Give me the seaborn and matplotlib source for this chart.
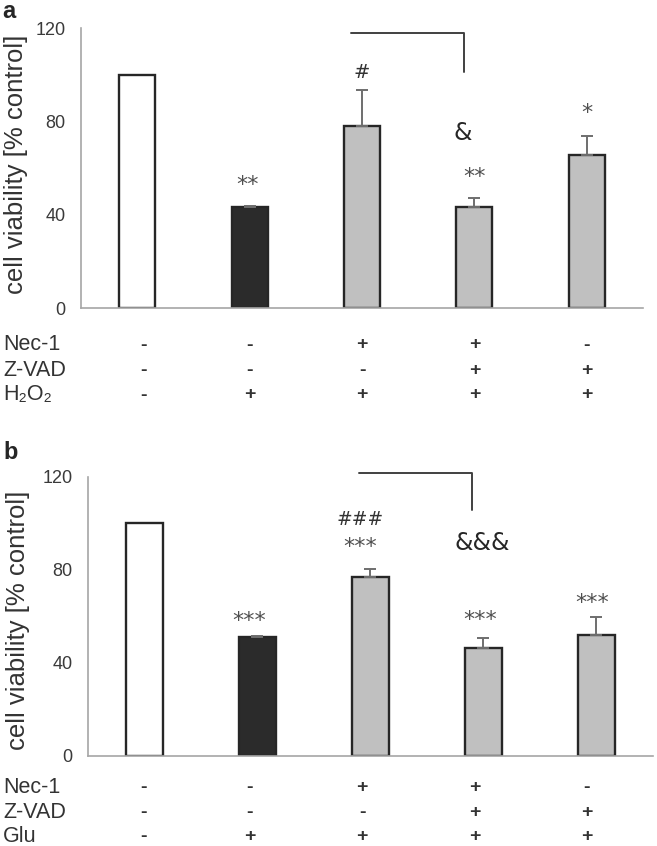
import pandas as pd
import seaborn as sns
import matplotlib.pyplot as plt
from matplotlib.transforms import blended_transform_factory

# groups (same order in both panels)
groups = ['ctrl', 'stress', 'Nec-1', 'Nec-1 + Z-VAD', 'Z-VAD']
bar_colors = ['#ffffff', '#2b2b2b', '#c0c0c0', '#c0c0c0', '#c0c0c0']

# panel a: H2O2
viab_a = [100, 43.5, 78, 43.4, 65.4]
err_a = [0, 0.4, 15.3, 3.7, 8.3]
# panel b: glutamate
viab_b = [100, 51, 76.8, 46.4, 51.9]
err_b = [0, 0.4, 3.5, 4.2, 7.8]

row_names_a = ['Nec-1', 'Z-VAD', 'H₂O₂']
row_names_b = ['Nec-1', 'Z-VAD', 'Glu']
treat = [['-', '-', '+', '+', '-'],
         ['-', '-', '-', '+', '+'],
         ['-', '+', '+', '+', '+']]

yticks = [0, 40, 80, 120]

sns.set_style("white")
plt.rcParams['font.family'] = ['Liberation Sans', 'DejaVu Sans']

fig = plt.figure(figsize=(6.57, 8.46), dpi=100)
ax_a = fig.add_axes([0.1233, 0.6359, 0.8554, 0.3310])
ax_b = fig.add_axes([0.1339, 0.1064, 0.8600, 0.3298])


def draw_panel(ax, values, errs, label_pos):
    df = pd.DataFrame({'group': groups, 'viability': values})
    sns.barplot(data=df, x='group', y='viability', hue='group', palette=bar_colors,
                order=groups, width=0.32, edgecolor='#262626', linewidth=1.7,
                legend=False, ax=ax)
    xs = [p.get_x() + p.get_width() / 2 for p in ax.patches]
    for x, v, e in zip(xs, values, errs):
        if e > 0:
            ax.errorbar(x, v, yerr=[[0], [e]], fmt='none', ecolor='#6e6e6e',
                        elinewidth=1.4, capsize=4, capthick=1.4, zorder=1)
    ax.set_xlim(-0.5, 4.5)
    ax.set_ylim(0, 120)
    ax.set_yticks(yticks)
    ax.set_xticks([])
    ax.set_xlabel('')
    ax.set_ylabel('cell viability [% control]', fontsize=18.5, color='#333333')
    ax.yaxis.set_label_coords(label_pos[0], label_pos[1])
    ax.tick_params(axis='y', length=0, pad=11, labelsize=13, labelcolor='#3a3a3a')
    for s in ['top', 'right']:
        ax.spines[s].set_visible(False)
    for s in ['left', 'bottom']:
        ax.spines[s].set_color('#a6a6a6')
        ax.spines[s].set_linewidth(1.2)


draw_panel(ax_a, viab_a, err_a, (-0.094, 0.514))
draw_panel(ax_b, viab_b, err_b, (-0.103, 0.487))

star = dict(ha='center', va='center', family='DejaVu Sans', color='#505050', fontsize=16)

# panel a annotations
ax_a.text(0.98, 52.7, '**', **star)
ax_a.text(3.0, 56, '**', **star)
ax_a.text(4.0, 83.5, '*', **star)
ax_a.text(2.0, 101, '#', ha='center', va='center', family='DejaVu Sans', color='#333333', fontsize=14)
ax_a.text(2.9, 75, '&', ha='center', va='center', family='DejaVu Sans', color='#262626', fontsize=17)
ax_a.plot([1.9, 2.91, 2.91], [118, 118, 101], color='#404040', lw=1.4, clip_on=False)

# panel b annotations
ax_b.text(0.93, 58, '***', **star)
ax_b.text(1.91, 90, '***', **star)
ax_b.text(2.97, 58.4, '***', **star)
ax_b.text(3.96, 65.7, '***', **star)
ax_b.text(1.91, 101.7, '###', ha='center', va='center', family='DejaVu Sans', color='#333333', fontsize=13.5)
ax_b.text(2.99, 91.8, '&&&', ha='center', va='center', family='DejaVu Sans', color='#262626', fontsize=17)
ax_b.plot([1.9, 2.9, 2.9], [121.5, 121.5, 105.6], color='#404040', lw=1.4, clip_on=False)

# treatment tables below each panel
col_x = [0.06, 1.0, 2.0, 3.0, 4.0]
tr = blended_transform_factory(ax_a.transData, fig.transFigure)
for names, rows_y in [(row_names_a, [345, 370, 395]), (row_names_b, [787, 812, 836])]:
    for name, row, yp in zip(names, treat, rows_y):
        yf = 1 - yp / 846
        fig.text(3 / 657, yf, name, ha='left', va='center', fontsize=15.5, color='#333333')
        for x, mark in zip(col_x, row):
            ax_a.text(x, yf, mark, transform=tr, ha='center', va='center',
                      fontsize=14, fontweight='bold', color='#333333', clip_on=False)

fig.text(2 / 657, 1 - 11 / 846, 'a', ha='left', va='center', fontsize=17, fontweight='bold')
fig.text(3 / 657, 1 - 452 / 846, 'b', ha='left', va='center', fontsize=17, fontweight='bold')

plt.savefig('out.png', dpi=100)
